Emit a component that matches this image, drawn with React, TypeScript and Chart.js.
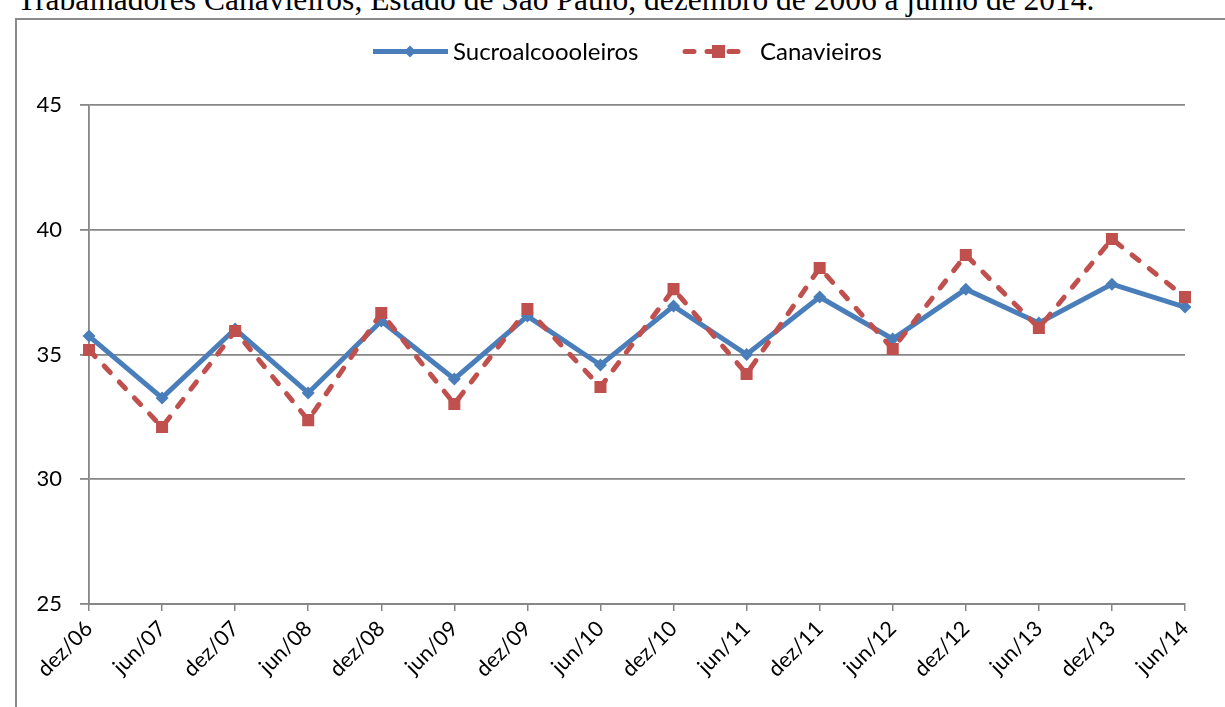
import React, { useEffect, useRef } from "react";
import { Chart, registerables } from "chart.js";

Chart.register(...registerables);

const categories = ["dez/06","jun/07","dez/07","jun/08","dez/08","jun/09","dez/09","jun/10","dez/10","jun/11","dez/11","jun/12","dez/12","jun/13","dez/13","jun/14"];
const sucroalcooleiros = [35.74,33.26,36.02,33.46,36.34,34.02,36.54,34.58,36.94,35.0,37.3,35.62,37.62,36.26,37.82,36.9];
const canavieiros = [35.18,32.09,35.94,32.37,36.66,33.02,36.82,33.7,37.62,34.22,38.47,35.22,38.99,36.06,39.63,37.3];
const yTicks = [25, 30, 35, 40, 45];
const seriesNames = ["Sucroalcoooleiros", "Canavieiros"];
const titleText = "Trabalhadores Canavieiros, Estado de São Paulo, dezembro de 2006 a junho de 2014.";

const BLUE = "#4A7EBB";
const RED = "#C0504D";
const GRID = "#868686";
const FONT = "Lato, 'Open Sans', sans-serif";

export default function App() {
  const ref = useRef<HTMLCanvasElement | null>(null);
  useEffect(() => {
    if (!ref.current) return;
    const legendPlugin = {
      id: "customLegend",
      afterDraw(chart: any) {
        const ctx = chart.ctx;
        ctx.save();
        ctx.font = `24px ${FONT}`;
        ctx.textBaseline = "middle";
        const y = 32.5;
        // series 1
        let x = 357;
        ctx.strokeStyle = BLUE;
        ctx.lineWidth = 5;
        ctx.setLineDash([]);
        ctx.beginPath();
        ctx.moveTo(x, y);
        ctx.lineTo(x + 75, y);
        ctx.stroke();
        ctx.fillStyle = BLUE;
        ctx.beginPath();
        ctx.moveTo(x + 37, y - 6);
        ctx.lineTo(x + 43, y);
        ctx.lineTo(x + 37, y + 6);
        ctx.lineTo(x + 31, y);
        ctx.closePath();
        ctx.fill();
        ctx.fillStyle = "#000";
        ctx.fillText(seriesNames[0], 437, y + 1);
        // series 2
        x = 669;
        ctx.strokeStyle = RED;
        ctx.lineWidth = 5;
        ctx.lineCap = "round";
        ctx.setLineDash([9, 13]);
        ctx.beginPath();
        ctx.moveTo(x, y);
        ctx.lineTo(x + 59, y);
        ctx.stroke();
        ctx.setLineDash([]);
        ctx.fillStyle = RED;
        ctx.fillRect(x + 27, y - 6.5, 13, 13);
        ctx.fillStyle = "#000";
        ctx.fillText(seriesNames[1], 744, y + 1);
        ctx.restore();
      },
    };
    const chart = new Chart(ref.current, {
      type: "line",
      data: {
        labels: categories,
        datasets: [
          {
            label: seriesNames[1],
            data: canavieiros,
            borderColor: RED,
            backgroundColor: RED,
            borderWidth: 5,
            borderDash: [9, 13],
            borderCapStyle: "round",
            pointStyle: "rect",
            pointRadius: 8.5,
            pointBorderWidth: 0,
            pointBackgroundColor: RED,
            tension: 0,
          },
          {
            label: seriesNames[0],
            data: sucroalcooleiros,
            borderColor: BLUE,
            backgroundColor: BLUE,
            borderWidth: 5,
            pointStyle: "rectRot",
            pointRadius: 6.5,
            pointBorderWidth: 0,
            pointBackgroundColor: BLUE,
            tension: 0,
          },
        ],
      },
      plugins: [legendPlugin],
      options: {
        responsive: false,
        animation: false,
        layout: { padding: { top: 86, right: 40, left: 0, bottom: 0 } },
        plugins: {
          legend: { display: false },
          title: { display: false },
          tooltip: { enabled: false },
        },
        scales: {
          x: {
            offset: false,
            grid: { display: true, drawOnChartArea: false, drawTicks: true, tickLength: 7, color: GRID, lineWidth: 1.5 },
            border: { display: true, color: GRID, width: 2 },
            ticks: {
              color: "#000",
              font: { family: FONT, size: 21.5 },
              maxRotation: 45,
              minRotation: 45,
              autoSkip: false,
              padding: 5,
            },
            afterFit(scale: any) { scale.height = 103; },
          },
          y: {
            min: 25,
            max: 45,
            afterBuildTicks(scale: any) { scale.ticks = yTicks.map((v) => ({ value: v })); },
            grid: { color: GRID, lineWidth: 1.8, tickLength: 9, drawTicks: true },
            border: { display: true, color: GRID, width: 1.8 },
            ticks: { color: "#000", font: { family: FONT, size: 22 }, padding: 18 },
            afterFit(scale: any) { scale.width = 73; },
          },
        },
      },
    });
    return () => chart.destroy();
  }, []);

  return (
    <div style={{ position: "fixed", left: 0, top: 0, width: 1225, height: 707, overflow: "hidden", background: "#fff" }}>
      <div style={{ position: "absolute", left: 17, top: -16, fontFamily: "'Liberation Serif', 'Times New Roman', serif", fontSize: 31.5, lineHeight: "31.5px", whiteSpace: "nowrap", color: "#000" }}>
        {titleText}
      </div>
      <div style={{ position: "absolute", left: 15, top: 18, width: 1240, height: 700, border: "2px solid #8a8a8a", boxSizing: "border-box" }} />
      <canvas ref={ref} width={1209} height={688} style={{ position: "absolute", left: 16, top: 19, width: 1209, height: 688 }} />
    </div>
  );
}
